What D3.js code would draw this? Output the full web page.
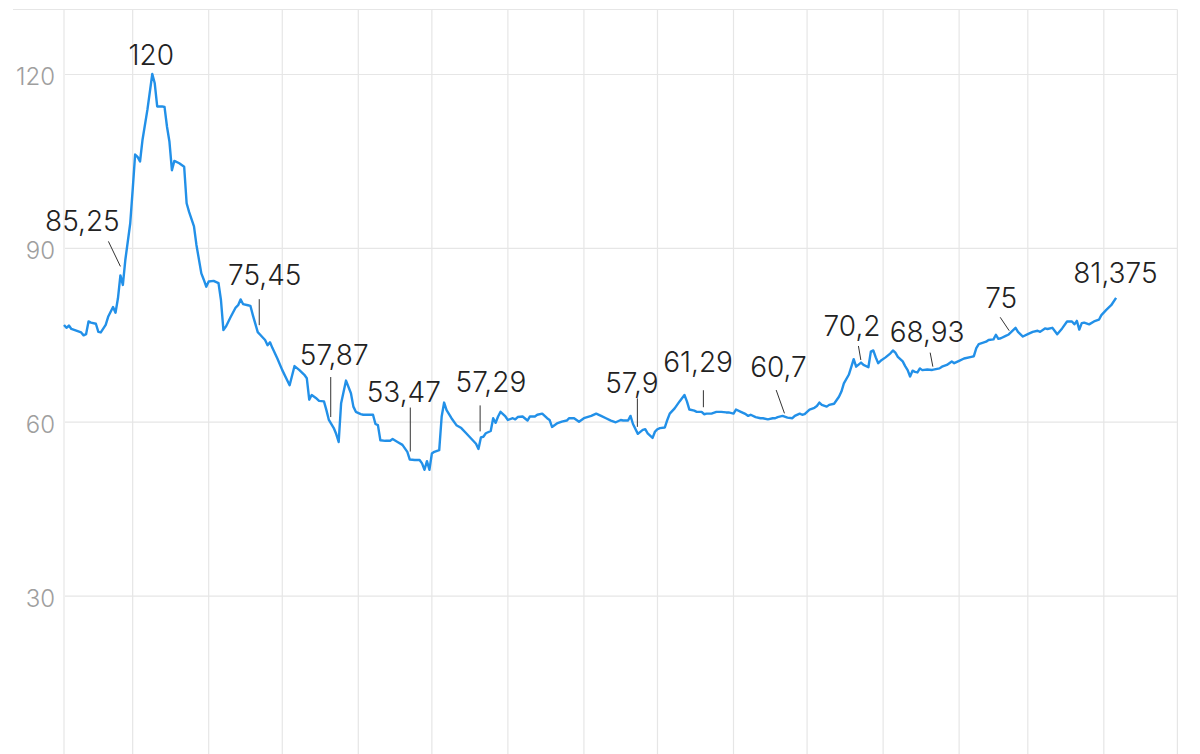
<!DOCTYPE html>
<html>
<head>
<meta charset="utf-8">
<script src="https://cdn.jsdelivr.net/npm/d3@7"></script>
<style>
  body { margin: 0; background: #fff; }
  svg { display: block; font-family: Inter, "Noto Sans", sans-serif; }
</style>
</head>
<body>
<div id="chart"></div>
<script>
// series: dates (daily, with gaps) and values
var dates = [
    "2021-02-01", "2021-02-02", "2021-02-03", "2021-02-04", "2021-02-06", "2021-02-08", "2021-02-09", "2021-02-10",
    "2021-02-11", "2021-02-12", "2021-02-14", "2021-02-15", "2021-02-16", "2021-02-18", "2021-02-19", "2021-02-21",
    "2021-02-22", "2021-02-23", "2021-02-24", "2021-02-25", "2021-02-26", "2021-02-28",
    "2021-03-01", "2021-03-02", "2021-03-03", "2021-03-04", "2021-03-05", "2021-03-07", "2021-03-09", "2021-03-10",
    "2021-03-11", "2021-03-13", "2021-03-14", "2021-03-15", "2021-03-16", "2021-03-17", "2021-03-18", "2021-03-20",
    "2021-03-22", "2021-03-23", "2021-03-24", "2021-03-26", "2021-03-27", "2021-03-29", "2021-03-30", "2021-03-31",
    "2021-04-01", "2021-04-03", "2021-04-05", "2021-04-06", "2021-04-07", "2021-04-08", "2021-04-10", "2021-04-12",
    "2021-04-13", "2021-04-14", "2021-04-15", "2021-04-17", "2021-04-18", "2021-04-19", "2021-04-21", "2021-04-22",
    "2021-04-24", "2021-04-25", "2021-04-26", "2021-04-27", "2021-04-29",
    "2021-05-01", "2021-05-04", "2021-05-06", "2021-05-08", "2021-05-10", "2021-05-11", "2021-05-12", "2021-05-13",
    "2021-05-15", "2021-05-16", "2021-05-18", "2021-05-19", "2021-05-20", "2021-05-22", "2021-05-23", "2021-05-24",
    "2021-05-25", "2021-05-27", "2021-05-29", "2021-05-30", "2021-05-31",
    "2021-06-02", "2021-06-03", "2021-06-05", "2021-06-07", "2021-06-08", "2021-06-09", "2021-06-10", "2021-06-12",
    "2021-06-14", "2021-06-15", "2021-06-17", "2021-06-19", "2021-06-21", "2021-06-22", "2021-06-24", "2021-06-26",
    "2021-06-27", "2021-06-28", "2021-06-29", "2021-06-30",
    "2021-07-01", "2021-07-02", "2021-07-04", "2021-07-05", "2021-07-06", "2021-07-07", "2021-07-09", "2021-07-11",
    "2021-07-13", "2021-07-15", "2021-07-17", "2021-07-19", "2021-07-20", "2021-07-21", "2021-07-22", "2021-07-23",
    "2021-07-25", "2021-07-26", "2021-07-27", "2021-07-28", "2021-07-29", "2021-07-31",
    "2021-08-01", "2021-08-03", "2021-08-04", "2021-08-05", "2021-08-07", "2021-08-09", "2021-08-10", "2021-08-12",
    "2021-08-13", "2021-08-15", "2021-08-17", "2021-08-18", "2021-08-19", "2021-08-21", "2021-08-23", "2021-08-25",
    "2021-08-26", "2021-08-28", "2021-08-30",
    "2021-09-01", "2021-09-04", "2021-09-06", "2021-09-08", "2021-09-10", "2021-09-12", "2021-09-14", "2021-09-16",
    "2021-09-17", "2021-09-19", "2021-09-20", "2021-09-21", "2021-09-23", "2021-09-25", "2021-09-26", "2021-09-27",
    "2021-09-29", "2021-09-30",
    "2021-10-01", "2021-10-02", "2021-10-04", "2021-10-05", "2021-10-06", "2021-10-08", "2021-10-10", "2021-10-12",
    "2021-10-13", "2021-10-14", "2021-10-16", "2021-10-17", "2021-10-19", "2021-10-20", "2021-10-21", "2021-10-23",
    "2021-10-25", "2021-10-27", "2021-10-29", "2021-10-30",
    "2021-11-01", "2021-11-02", "2021-11-04", "2021-11-06", "2021-11-07", "2021-11-08", "2021-11-10", "2021-11-12",
    "2021-11-13", "2021-11-15", "2021-11-17", "2021-11-18", "2021-11-19", "2021-11-21", "2021-11-23", "2021-11-25",
    "2021-11-26", "2021-11-28", "2021-11-29", "2021-11-30",
    "2021-12-02", "2021-12-04", "2021-12-05", "2021-12-06", "2021-12-07", "2021-12-09", "2021-12-10", "2021-12-12",
    "2021-12-13", "2021-12-14", "2021-12-15", "2021-12-16", "2021-12-18", "2021-12-19", "2021-12-20", "2021-12-21",
    "2021-12-23", "2021-12-24", "2021-12-26", "2021-12-27", "2021-12-28", "2021-12-29", "2021-12-30", "2021-12-31",
    "2022-01-02", "2022-01-04", "2022-01-05", "2022-01-06", "2022-01-07", "2022-01-09", "2022-01-10", "2022-01-11",
    "2022-01-12", "2022-01-13", "2022-01-14", "2022-01-15", "2022-01-16", "2022-01-17", "2022-01-19", "2022-01-21",
    "2022-01-24", "2022-01-25", "2022-01-27", "2022-01-29", "2022-01-30",
    "2022-02-01", "2022-02-03", "2022-02-06", "2022-02-07", "2022-02-08", "2022-02-09", "2022-02-12", "2022-02-13",
    "2022-02-15", "2022-02-16", "2022-02-17", "2022-02-18", "2022-02-20", "2022-02-21", "2022-02-24", "2022-02-25",
    "2022-02-27",
    "2022-03-01", "2022-03-03", "2022-03-05", "2022-03-06", "2022-03-08", "2022-03-09", "2022-03-11", "2022-03-13",
    "2022-03-15", "2022-03-17", "2022-03-19", "2022-03-20", "2022-03-21", "2022-03-22", "2022-03-23", "2022-03-24",
    "2022-03-26", "2022-03-28", "2022-03-30", "2022-03-31",
    "2022-04-02", "2022-04-04", "2022-04-06"
];

var values = [
    76.7, 76.2, 76.6, 76.0, 75.7, 75.4, 74.9, 75.1,
    77.3, 77.1, 76.9, 75.5, 75.4, 76.7, 78.1, 79.8,
    78.8, 81.3, 85.25, 83.6, 87.9, 94.2,
    100.0, 106.1, 105.7, 104.9, 108.6, 113.8, 120, 118.4,
    114.4, 114.4, 114.3, 110.9, 108.3, 103.4, 105.0, 104.6,
    104.0, 97.7, 96.2, 93.7, 90.5, 85.6, 84.5, 83.3,
    84.2, 84.3, 83.9, 81.0, 75.8, 76.4, 78.1, 79.7,
    80.1, 81.1, 80.3, 80.1, 80.0, 78.4, 75.45, 75.0,
    74.1, 73.2, 73.7, 72.7, 70.9,
    68.9, 66.3, 69.6, 68.9, 68.1, 67.5, 63.8, 64.6,
    64.0, 63.6, 63.5, 62.0, 60.3, 58.9, 57.87, 56.5,
    63.2, 67.1, 64.9, 62.6, 61.7,
    61.3, 61.2, 61.2, 61.2, 59.6, 59.4, 56.8, 56.7,
    56.7, 57.0, 56.5, 56.0, 54.8, 53.47, 53.4, 53.4,
    52.8, 51.7, 53.2, 51.7,
    54.5, 54.8, 55.1, 60.9, 63.3, 62.0, 60.6, 59.4,
    58.9, 58.0, 57.1, 56.2, 55.3, 57.29, 57.4, 58.0,
    58.4, 60.6, 59.8, 60.9, 61.7, 60.9,
    60.3, 60.6, 60.4, 60.8, 60.9, 60.2, 60.9, 60.9,
    61.2, 61.4, 60.6, 60.3, 59.1, 59.7, 60.0, 60.2,
    60.6, 60.6, 60.0,
    60.6, 61.0, 61.4, 61.0, 60.6, 60.2, 59.9, 60.3,
    60.2, 60.2, 61.0, 59.6, 57.9, 58.6, 58.7, 58.0,
    57.2, 58.3,
    58.7, 58.9, 59.0, 60.3, 61.4, 62.3, 63.5, 64.6,
    63.5, 62.1, 61.9, 61.7, 61.7, 61.29, 61.4, 61.4,
    61.7, 61.7, 61.6, 61.6,
    61.4, 62.1, 61.7, 61.3, 61.0, 61.2, 60.8, 60.6,
    60.6, 60.4, 60.6, 60.6, 60.8, 61.0, 60.7, 60.6,
    61.0, 61.4, 61.2, 61.3,
    62.1, 62.4, 62.7, 63.3, 62.9, 62.6, 62.9, 63.1,
    63.7, 64.3, 65.2, 66.6, 68.1, 69.4, 70.8, 69.5,
    70.2, 69.8, 69.4, 72.1, 72.3, 71.1, 70.1, 70.5,
    71.1, 71.8, 72.3, 71.9, 71.2, 70.4, 69.6, 68.9,
    67.8, 68.8, 68.6, 68.5, 69.2, 68.9, 69.0, 68.93,
    69.2, 69.5, 69.8, 70.4, 70.1,
    70.5, 70.9, 71.2, 71.3, 72.7, 73.4, 73.8, 74.1,
    74.2, 75.0, 74.3, 74.4, 74.8, 75, 76.2, 75.5,
    74.7,
    75.1, 75.5, 75.7, 75.5, 76.1, 76.0, 76.2, 75.1,
    76.1, 77.3, 77.3, 76.8, 77.4, 75.9, 77.0, 77.1,
    76.8, 77.3, 77.6, 78.4,
    79.3, 80.1, 81.375
];

// annotated points (label text is the value on that date)
var annotationDates = [
    "2021-02-24", "2021-03-09", "2021-04-21", "2021-05-23", "2021-06-22", "2021-07-21", "2021-09-23",
    "2021-10-20", "2021-11-23", "2021-12-23", "2022-01-21", "2022-02-21", "2022-04-06"
];

var yTicks = [30, 60, 90, 120];

// label / connector placement relative to each annotated point (pixels)
var annotationLayout = [
    { dx: -38, dy: -44, line: [-12, -34, 0, -9] },
    { dx: -1, dy: -9, line: null },
    { dx: 7, dy: -47, line: [1.5, -33, 1.5, -7] },
    { dx: -2, dy: -69, line: [-5.5, -57, -5.5, -17] },
    { dx: -6, dy: -58, line: [0.5, -52, 0.5, -8] },
    { dx: 10, dy: -45, line: [-0.8, -32, -0.8, -6] },
    { dx: -6, dy: -41, line: [-0.5, -35.5, -0.5, -7] },
    { dx: -6, dy: -42, line: [-0.7, -24, -0.7, -7] },
    { dx: -9, dy: -41, line: [-11.3, -27.6, -3, -4.3] },
    { dx: -9, dy: -27, line: [-2.6, -16.6, -0.2, -2.6] },
    { dx: -5, dy: -28, line: [-2, -17.3, 0.7, -3.3] },
    { dx: -7, dy: -26.5, line: [-8, -17.5, 1, -4.1] },
    { dx: -0.7, dy: -14.5, line: null }
];

var width = 1200,
    height = 754;

var parseDate = d3.timeParse("%Y-%m-%d");

var data = dates.map(function (d, i) {
    return { date: parseDate(d), value: values[i] };
});

var svg = d3.select("#chart")
    .append("svg")
    .attr("width", width)
    .attr("height", height);

// scales
var x = d3.scaleTime()
    .domain([parseDate("2021-02-01"), parseDate("2022-05-01")])
    .range([64, 1177.4]);

var y = d3.scaleLinear()
    .domain([0, 120])
    .range([769.4, 74]);

var plotTop = 9.5;
var gridColor = "#e6e6e6";

// top border line
svg.append("line")
    .attr("x1", 13)
    .attr("x2", 1177.4)
    .attr("y1", plotTop)
    .attr("y2", plotTop)
    .attr("stroke", gridColor)
    .attr("stroke-width", 1.2);

// vertical month grid
var months = d3.timeMonth.range(parseDate("2021-02-01"), parseDate("2022-05-02"));
svg.append("g")
    .selectAll("line")
    .data(months)
    .join("line")
    .attr("x1", function (d) { return x(d); })
    .attr("x2", function (d) { return x(d); })
    .attr("y1", plotTop)
    .attr("y2", height)
    .attr("stroke", gridColor)
    .attr("stroke-width", 1.2);

// y axis with horizontal grid
var yAxis = d3.axisLeft(y)
    .tickValues(yTicks)
    .tickSize(-(1177.4 - 65))
    .tickPadding(10);

var yg = svg.append("g")
    .attr("transform", "translate(65,0)")
    .call(yAxis);

yg.select(".domain").remove();
yg.selectAll(".tick line")
    .attr("stroke", gridColor)
    .attr("stroke-width", 1.2);
yg.selectAll(".tick text")
    .attr("x", -10)
    .attr("dy", "0.45em")
    .attr("fill", "#9e9e9e")
    .style("font-family", "Inter, 'Noto Sans', sans-serif")
    .style("font-weight", 300)
    .style("font-size", "24px");

// the line
var line = d3.line()
    .x(function (d) { return x(d.date); })
    .y(function (d) { return y(d.value); });

svg.append("path")
    .datum(data)
    .attr("d", line)
    .attr("fill", "none")
    .attr("stroke", "#2290e8")
    .attr("stroke-width", 2.4)
    .attr("stroke-linejoin", "round");

// annotations
var annots = annotationDates.map(function (d, i) {
    var pt = data.find(function (p) { return +p.date === +parseDate(d); });
    return { px: x(pt.date), py: y(pt.value), value: pt.value, layout: annotationLayout[i] };
});

var ag = svg.append("g");

ag.selectAll("line")
    .data(annots.filter(function (a) { return a.layout.line; }))
    .join("line")
    .attr("x1", function (a) { return a.px + a.layout.line[0]; })
    .attr("y1", function (a) { return a.py + a.layout.line[1]; })
    .attr("x2", function (a) { return a.px + a.layout.line[2]; })
    .attr("y2", function (a) { return a.py + a.layout.line[3]; })
    .attr("stroke", "#333")
    .attr("stroke-width", 1);

ag.selectAll("text")
    .data(annots)
    .join("text")
    .attr("x", function (a) { return a.px + a.layout.dx; })
    .attr("y", function (a) { return a.py + a.layout.dy; })
    .attr("text-anchor", "middle")
    .attr("fill", "#222")
    .style("font-size", "28px")
    .style("font-weight", 300)
    .text(function (a) { return String(a.value).replace(".", ","); });
</script>
</body>
</html>
